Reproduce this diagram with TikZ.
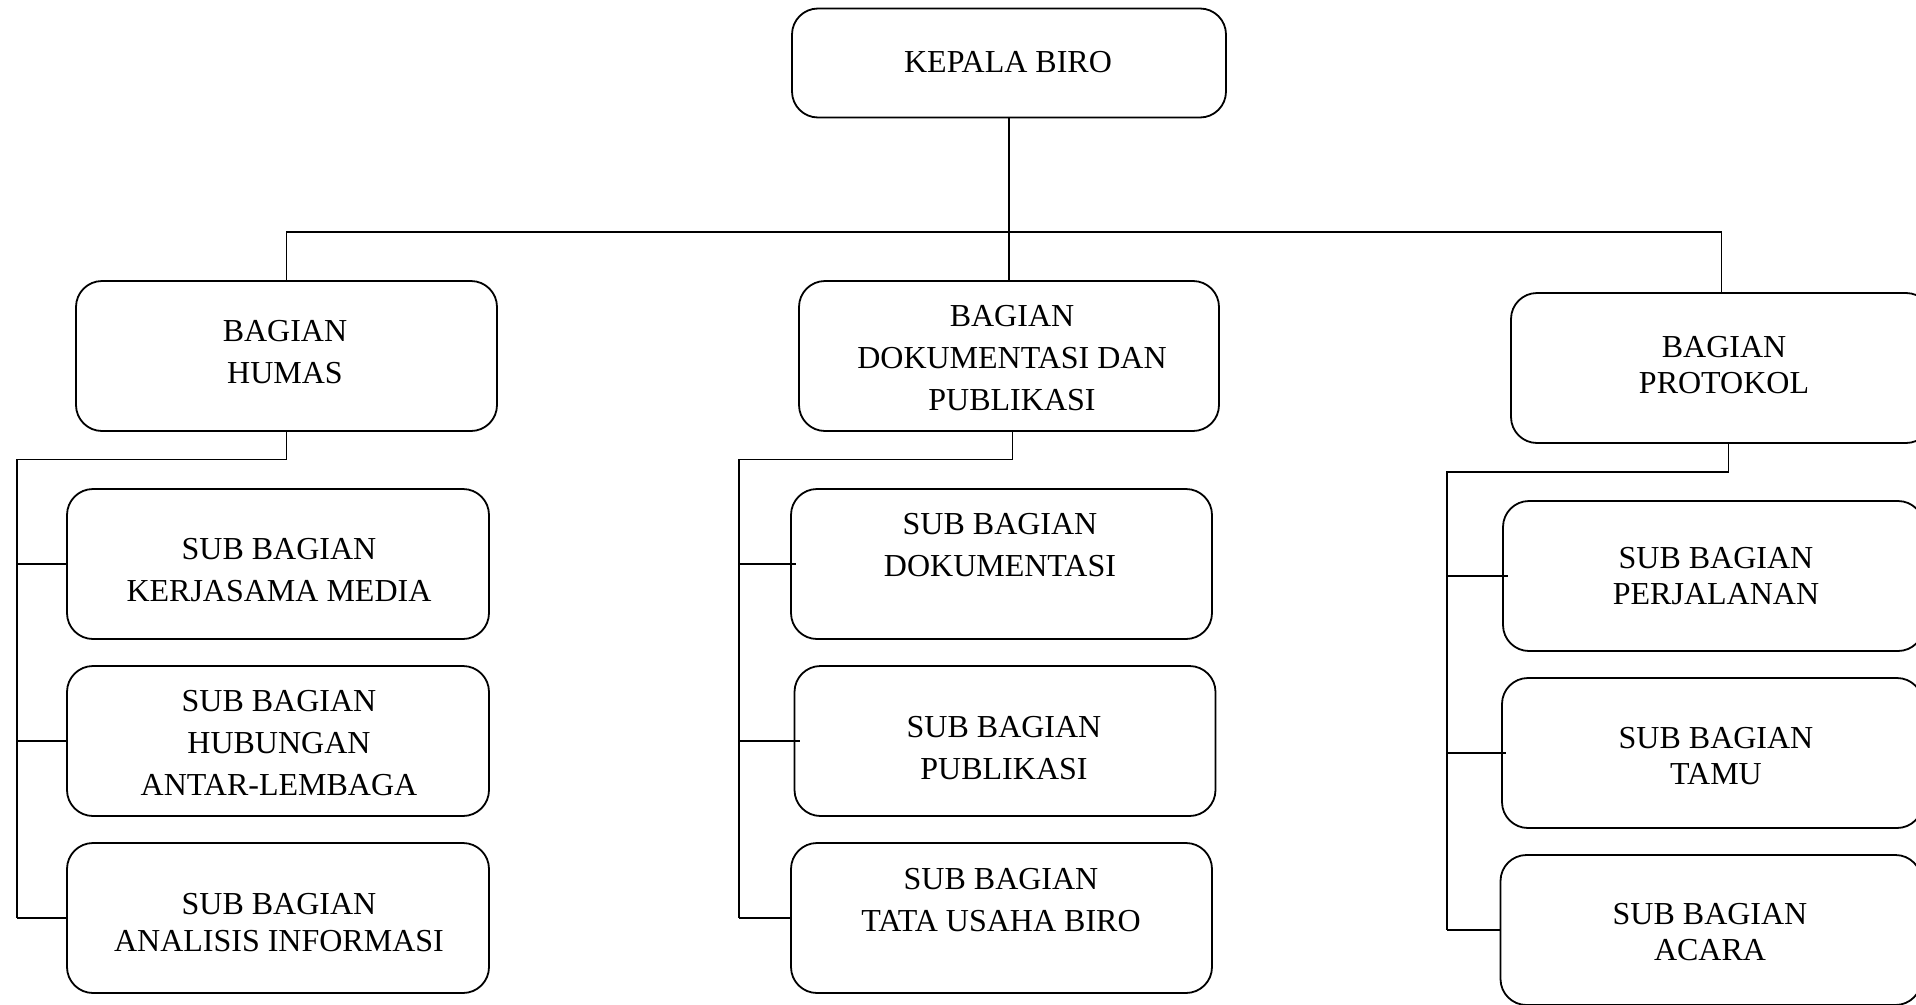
\documentclass[tikz,border=0pt]{standalone}
\usepackage{fontspec}
\setmainfont{Liberation Serif}
\begin{document}
\begin{tikzpicture}[x=1pt,y=-1pt,
  box/.style={draw, line width=1.8pt, rounded corners=26pt, inner sep=0pt, minimum width=421pt, minimum height=150pt},
  txt/.style={align=center, inner sep=0pt, font=\fontsize{32}{42}\selectfont},
  txts/.style={align=center, inner sep=0pt, font=\fontsize{32}{36.5}\selectfont},
  conn/.style={line width=1.5pt}]
\clip (0,0) rectangle (1916,1004);
\fill[white] (0,0) rectangle (1916,1004);
% boxes
\node[box, minimum width=434pt, minimum height=109pt] (kepala) at (1009,63) {};
\node[box] (humas) at (286.5,356) {};
\node[box, minimum width=420pt] (dok) at (1009,356) {};
\node[box] (protokol) at (1721.5,368) {};
\node[box, minimum width=422pt] (l1) at (278,564) {};
\node[box, minimum width=422pt] (l2) at (278,741) {};
\node[box, minimum width=422pt] (l3) at (278,918) {};
\node[box] (m1) at (1001.5,564) {};
\node[box] (m2) at (1005,741) {};
\node[box] (m3) at (1001.5,918) {};
\node[box] (r1) at (1713.5,576) {};
\node[box] (r2) at (1712.5,753) {};
\node[box] (r3) at (1711,930) {};
% texts
\node[txt] (kepalaT) at (1008,62) {KEPALA BIRO};
\node[txt] (humasT) at (285,352.5) {BAGIAN\\HUMAS};
\node[txt] (dokT) at (1012,358) {BAGIAN\\DOKUMENTASI DAN\\PUBLIKASI};
\node[txts] (protokolT) at (1724,365) {BAGIAN\\PROTOKOL};
\node[txt] (l1T) at (279,570.5) {SUB BAGIAN\\KERJASAMA MEDIA};
\node[txt] (l2T) at (279,743) {SUB BAGIAN\\HUBUNGAN\\ANTAR-LEMBAGA};
\node[txts] (l3T) at (279,922.5) {SUB BAGIAN\\ANALISIS INFORMASI};
\node[txt] (m1T) at (1000,545) {SUB BAGIAN\\DOKUMENTASI};
\node[txt] (m2T) at (1004,748) {SUB BAGIAN\\PUBLIKASI};
\node[txt] (m3T) at (1001,900.5) {SUB BAGIAN\\TATA USAHA BIRO};
\node[txts] (r1T) at (1716,576) {SUB BAGIAN\\PERJALANAN};
\node[txts] (r2T) at (1716,756) {SUB BAGIAN\\TAMU};
\node[txts] (r3T) at (1710,932) {SUB BAGIAN\\ACARA};
% connectors top
\coordinate (bar) at (1009,232);
\draw[conn] (kepala.south) -- (dok.north);
\draw[conn] (humas.north) |- (bar) -| (protokol.north);
% left trunk
\coordinate (hT) at (17,459.5);
\draw[conn] (humas.south) |- (hT) -- (hT |- l3.west);
\draw[conn] (hT |- l1.west) -- (l1.west);
\draw[conn] (hT |- l2.west) -- (l2.west);
\draw[conn] (hT |- l3.west) -- (l3.west);
% middle trunk
\coordinate (mT) at (739,459.5);
\draw[conn] ([xshift=3.5pt]dok.south) |- (mT) -- (mT |- m3.west);
\draw[conn] (mT |- m1.west) -- ([xshift=6pt]m1.west);
\draw[conn] (mT |- m2.west) -- ([xshift=6pt]m2.west);
\draw[conn] (mT |- m3.west) -- (m3.west);
% right trunk
\coordinate (rT) at (1447,472);
\draw[conn] ([xshift=7pt]protokol.south) |- (rT) -- (rT |- r3.west);
\draw[conn] (rT |- r1.west) -- ([xshift=6pt]r1.west);
\draw[conn] (rT |- r2.west) -- ([xshift=5pt]r2.west);
\draw[conn] (rT |- r3.west) -- (r3.west);
\end{tikzpicture}
\end{document}
